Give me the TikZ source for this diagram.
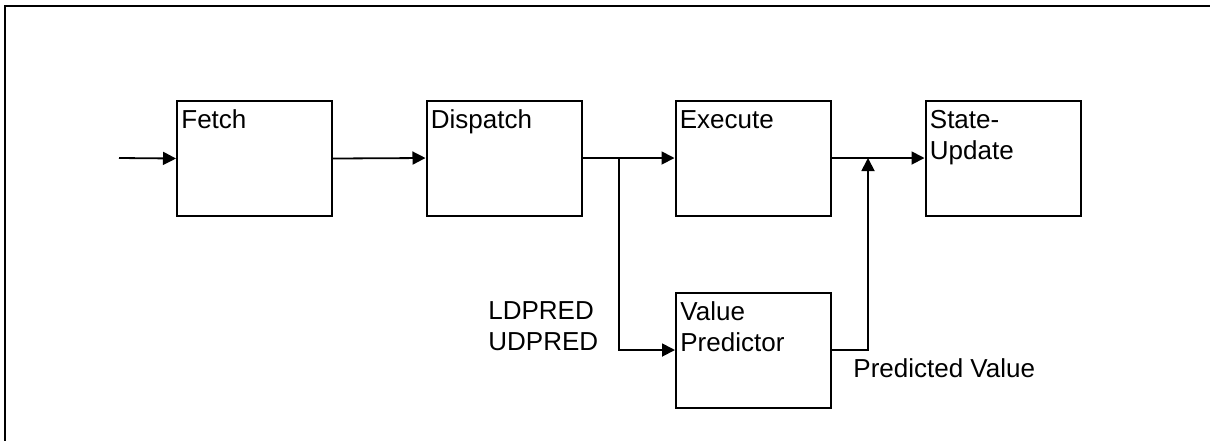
\documentclass[tikz,border=0pt]{standalone}
\usepackage{fontspec}
\setmainfont{Liberation Sans}
\usetikzlibrary{arrows.meta,calc}
\begin{document}
\begin{tikzpicture}[x=0.5pt,y=-0.5pt,
  stage/.style={draw,line width=1pt,rectangle,minimum width=77.5pt,minimum height=57.5pt,inner sep=0pt},
  txt/.style={anchor=base west,inner sep=0pt,align=left,font=\fontsize{13}{15.5}\selectfont},
  conn/.style={line width=0.9pt},
  arr/.style={conn,-{Triangle[length=6.5pt,width=6.5pt]}}]
\useasboundingbox (0,0) rectangle (1210,441);
\draw[line width=1.1pt] (1210,6) -- (5,6) -- (5,441);
\node[stage] (fetch) at (254.5,158.5) {};
\node[stage] (dispatch) at (504,158) {};
\node[stage] (execute) at (753,158) {};
\node[stage] (state) at (1003,158) {};
\node[stage] (vp) at (753.5,350) {};
\node[txt] (tfetch) at ($(fetch.north west)+(5,28.5)$) {Fetch};
\node[txt] (tdispatch) at ($(dispatch.north west)+(5,28.5)$) {Dispatch};
\node[txt] (texecute) at ($(execute.north west)+(5,28.5)$) {Execute};
\node[txt] (tstate) at ($(state.north west)+(5,59.5)$) {State-\\Update};
\node[txt] (tvp) at ($(vp.north west)+(5,59.5)$) {Value\\Predictor};
\node[txt] (tpred) at (488,350) {LDPRED\\UDPRED};
\node[txt] (tpv) at (853,377) {Predicted Value};
\coordinate (in) at (119,158);
\coordinate (br) at (619,158);
\coordinate (join) at (868,158);
\draw[arr] (in) -- (fetch.west);
\draw[arr] (fetch.east) -- (dispatch.west);
\draw[arr] (dispatch.east) -- (execute.west);
\draw[arr] (br) |- (vp.west);
\draw[arr] (execute.east) -- (state.west);
\draw[arr] (vp.east) -| (join);
\end{tikzpicture}
\end{document}
